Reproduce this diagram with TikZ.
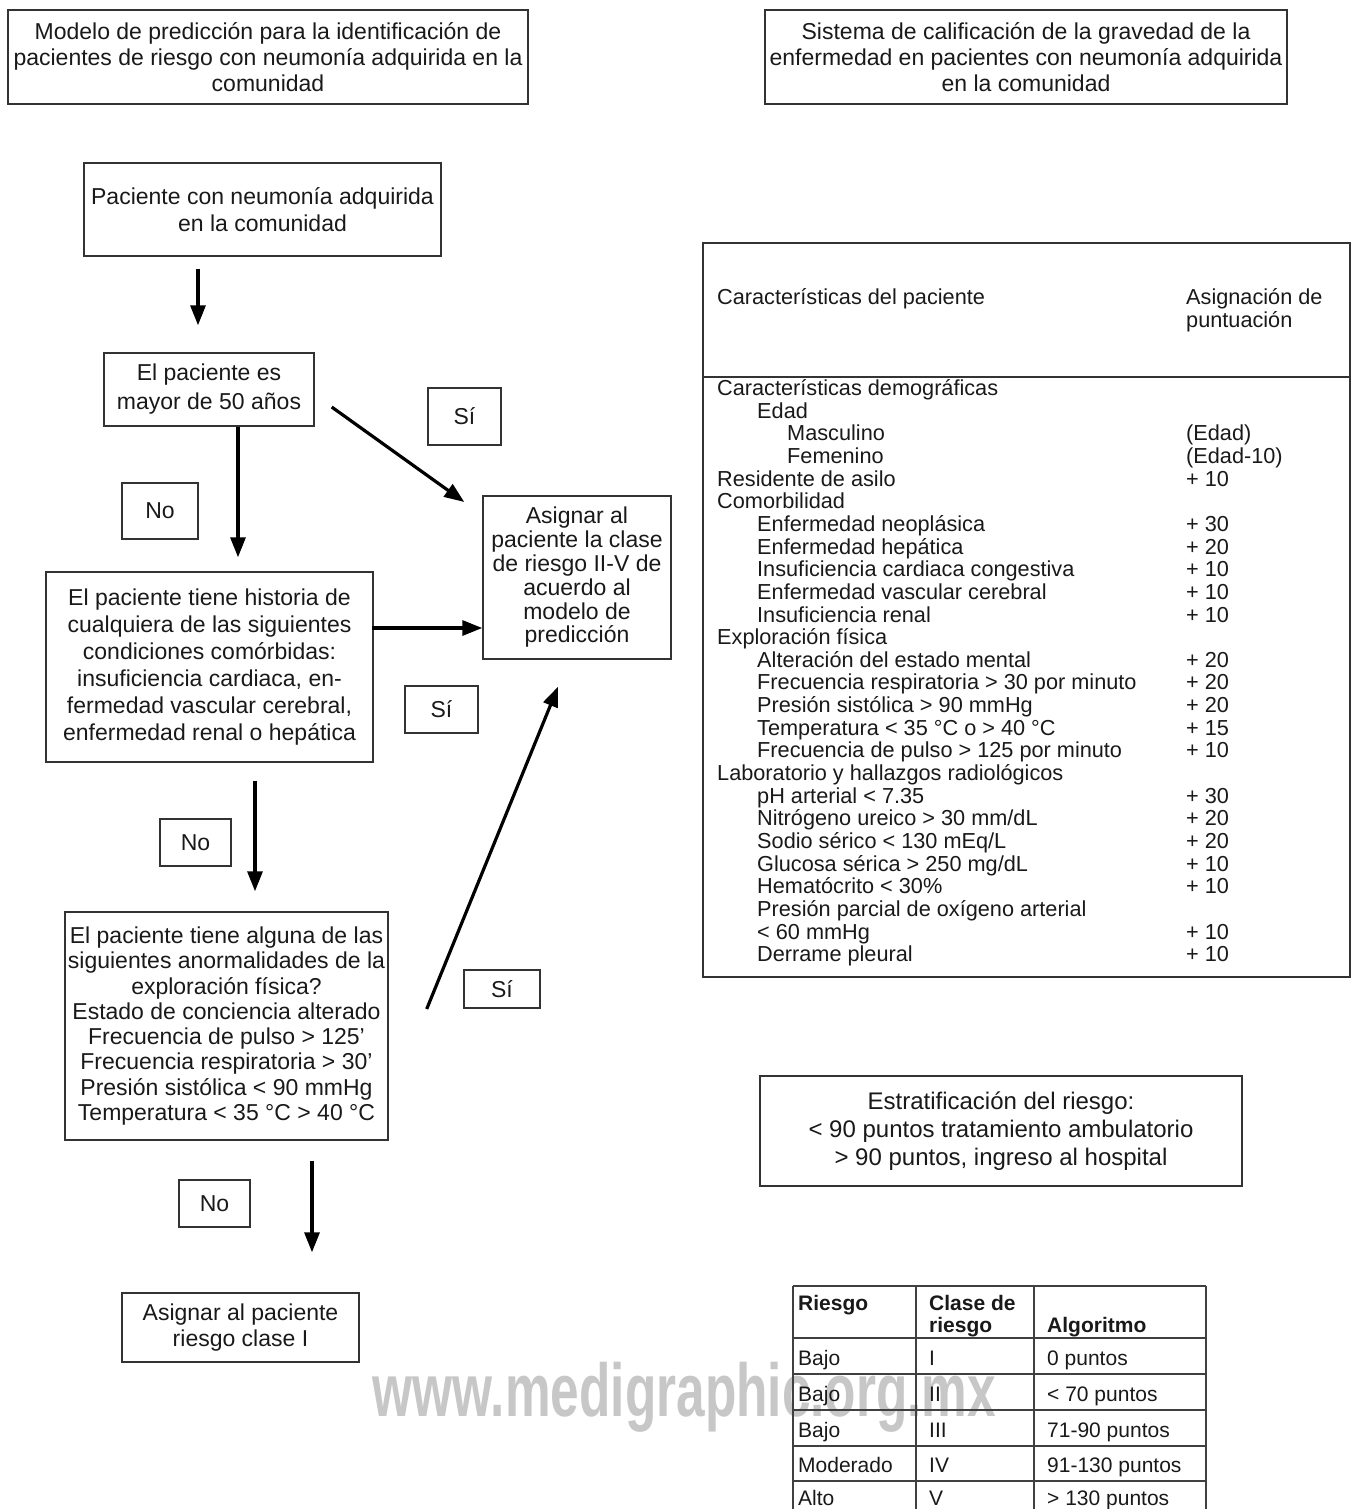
\documentclass[tikz,border=0pt]{standalone}
\usepackage{fontspec}
\setmainfont{Liberation Sans}
\usetikzlibrary{arrows.meta,calc}
\newcommand{\fsz}[2]{\fontsize{#1}{#2}\selectfont}
\newcommand{\rowL}[3]{\node[tbl, anchor=base west] (L#1) at (#2, {395.5+(#1-1)*22.65}) {#3};}
\newcommand{\rowV}[2]{\node[tbl, anchor=base west] (V#1) at (1186, {395.5+(#1-1)*22.65}) {#2};}
\begin{document}
\begin{tikzpicture}[x=1pt,y=-1pt,
  bx/.style={draw=black!80, line width=1.4pt, inner sep=0pt, align=center, text=black!90},
  lbl/.style={bx, font=\fsz{23}{26}},
  tbl/.style={inner sep=0pt, text=black!90, font=\fsz{21.7}{22.65}},
  btbl/.style={inner sep=0pt, text=black!90, font=\fsz{21}{22}},
  grid/.style={draw=black!75, line width=1.3pt},
  arr/.style={line width=3.2pt, draw=black, -{Triangle[length=20pt,width=15pt]}}]
\useasboundingbox (0,0) rectangle (1354,1509);

% ---------- titles ----------
\node[bx, minimum width=520, minimum height=94, font=\fsz{23}{26}] (A) at (268,57)
  {Modelo de predicción para la identificación de\\pacientes de riesgo con neumonía adquirida en la\\comunidad};
\node[bx, minimum width=522, minimum height=94, font=\fsz{23}{26}] (R) at (1026,57)
  {Sistema de calificación de la gravedad de la\\enfermedad en pacientes con neumonía adquirida\\en la comunidad};

% ---------- flow boxes ----------
\node[bx, minimum width=357, minimum height=93, font=\fsz{23}{27}] (B) at (262.5,209.5)
  {Paciente con neumonía adquirida\\en la comunidad};
\node[bx, minimum width=210, minimum height=73, font=\fsz{23}{29}] (C) at (209,389.5)
  {El paciente es\\mayor de 50 años};
\node[bx, minimum width=327, minimum height=190, font=\fsz{23}{27}] (D) at (209.5,667)
  {El paciente tiene historia de\\cualquiera de las siguientes\\condiciones comórbidas:\\insuficiencia cardiaca, en-\\fermedad vascular cerebral,\\enfermedad renal o hepática};
\node[bx, minimum width=188, minimum height=163, font=\fsz{23}{23.8}] (E) at (577,577.5)
  {Asignar al\\paciente la clase\\de riesgo II-V de\\acuerdo al\\modelo de\\predicción};
\node[bx, minimum width=323, minimum height=228, font=\fsz{23}{25.3}] (F) at (226.5,1026)
  {El paciente tiene alguna de las\\siguientes anormalidades de la\\exploración física?\\Estado de conciencia alterado\\Frecuencia de pulso > 125’\\Frecuencia respiratoria > 30’\\Presión sistólica < 90 mmHg\\Temperatura < 35 °C > 40 °C};
\node[bx, minimum width=237, minimum height=69, font=\fsz{23}{26}] (G) at (240.5,1327.5)
  {Asignar al paciente\\riesgo clase I};

% ---------- yes / no labels ----------
\node[lbl, minimum width=73, minimum height=57] (S1) at (464.5,416.5) {Sí};
\node[lbl, minimum width=76, minimum height=56] (N1) at (160,511) {No};
\node[lbl, minimum width=73, minimum height=47] (S2) at (441.5,709.5) {Sí};
\node[lbl, minimum width=71, minimum height=47] (N2) at (195.5,842.5) {No};
\node[lbl, minimum width=76, minimum height=38] (S3) at (502,989) {Sí};
\node[lbl, minimum width=71, minimum height=47] (N3) at (214.5,1203.5) {No};

% ---------- arrows ----------
\coordinate (x1) at (198,0);
\coordinate (x3) at (238,0);
\coordinate (y4) at (0,628);
\coordinate (x5) at (255,0);
\coordinate (x7) at (312,0);
\draw[arr, shorten <=12pt, shorten >=27pt] (B.south -| x1) -- (C.north -| x1);
\draw[arr] ($(C.east)+(17,17.5)$) -- ($(E.west)+(-18,-75.5)$);
\draw[arr, shorten >=14pt] (C.south -| x3) -- (D.north -| x3);
\draw[arr, shorten <=-2pt] (D.east |- y4) -- (E.west |- y4);
\draw[arr, shorten <=18pt, shorten >=20pt] (D.south -| x5) -- (F.north -| x5);
\draw[arr] ($(F.east)+(38,-17)$) -- ($(E.south)+(-19,27)$);
\draw[arr, shorten <=20pt, shorten >=40pt] (F.south -| x7) -- (G.north -| x7);

% ---------- scoring table ----------
\node[draw=black!80, line width=1.4pt, minimum width=647, minimum height=734, inner sep=0pt] (T) at (1026.5,610) {};
\coordinate (hy) at (0,377);
\draw[draw=black!80, line width=1.3pt] (T.west |- hy) -- (T.east |- hy);
\node[tbl, anchor=base west] (H1) at (717,304.5) {Características del paciente};
\node[tbl, anchor=base west] (H2) at (1186,304.5) {Asignación de};
\node[tbl, anchor=base west] (H3) at (1186,327.5) {puntuación};

\rowL{1}{717}{Características demográficas}
\rowL{2}{757}{Edad}
\rowL{3}{787}{Masculino}            \rowV{3}{(Edad)}
\rowL{4}{787}{Femenino}             \rowV{4}{(Edad-10)}
\rowL{5}{717}{Residente de asilo}   \rowV{5}{+ 10}
\rowL{6}{717}{Comorbilidad}
\rowL{7}{757}{Enfermedad neoplásica}            \rowV{7}{+ 30}
\rowL{8}{757}{Enfermedad hepática}              \rowV{8}{+ 20}
\rowL{9}{757}{Insuficiencia cardiaca congestiva}\rowV{9}{+ 10}
\rowL{10}{757}{Enfermedad vascular cerebral}    \rowV{10}{+ 10}
\rowL{11}{757}{Insuficiencia renal}             \rowV{11}{+ 10}
\rowL{12}{717}{Exploración física}
\rowL{13}{757}{Alteración del estado mental}    \rowV{13}{+ 20}
\rowL{14}{757}{Frecuencia respiratoria > 30 por minuto} \rowV{14}{+ 20}
\rowL{15}{757}{Presión sistólica > 90 mmHg}     \rowV{15}{+ 20}
\rowL{16}{757}{Temperatura < 35 °C o > 40 °C}   \rowV{16}{+ 15}
\rowL{17}{757}{Frecuencia de pulso > 125 por minuto} \rowV{17}{+ 10}
\rowL{18}{717}{Laboratorio y hallazgos radiológicos}
\rowL{19}{757}{pH arterial < 7.35}              \rowV{19}{+ 30}
\rowL{20}{757}{Nitrógeno ureico > 30 mm/dL}     \rowV{20}{+ 20}
\rowL{21}{757}{Sodio sérico < 130 mEq/L}        \rowV{21}{+ 20}
\rowL{22}{757}{Glucosa sérica > 250 mg/dL}      \rowV{22}{+ 10}
\rowL{23}{757}{Hematócrito < 30\%}              \rowV{23}{+ 10}
\rowL{24}{757}{Presión parcial de oxígeno arterial}
\rowL{25}{757}{< 60 mmHg}                       \rowV{25}{+ 10}
\rowL{26}{757}{Derrame pleural}                 \rowV{26}{+ 10}

% ---------- stratification ----------
\node[bx, minimum width=482, minimum height=110, font=\fsz{24}{28}] (ST) at (1001,1131)
  {Estratificación del riesgo:\\< 90 puntos tratamiento ambulatorio\\> 90 puntos, ingreso al hospital};

% ---------- watermark ----------
\node[anchor=base, inner sep=0pt, text=black!22, font=\fsz{75}{80}\bfseries] (WM) at (684.5,1416)
  {\scalebox{0.685}[1]{www.medigraphic.org.mx}};

% ---------- risk table ----------
\draw[grid] (793,1286) -- (1206,1286);
\draw[grid] (793,1338) -- (1206,1338);
\draw[grid] (793,1374) -- (1206,1374);
\draw[grid] (793,1410) -- (1206,1410);
\draw[grid] (793,1446) -- (1206,1446);
\draw[grid] (793,1481) -- (1206,1481);
\draw[grid] (793,1286) -- (793,1512);
\draw[grid] (916,1286) -- (916,1512);
\draw[grid] (1034,1286) -- (1034,1512);
\draw[grid] (1206,1286) -- (1206,1512);

\node[btbl, anchor=base west, font=\fsz{21}{22}\bfseries] (c11) at (798,1310) {Riesgo};
\node[btbl, anchor=base west, font=\fsz{21}{22}\bfseries] (c12) at (929,1310) {Clase de};
\node[btbl, anchor=base west, font=\fsz{21}{22}\bfseries] (c12b) at (929,1332) {riesgo};
\node[btbl, anchor=base west, font=\fsz{21}{22}\bfseries] (c13) at (1047,1332) {Algoritmo};

\node[btbl, anchor=base west] (c21) at (798,1365.5) {Bajo};
\node[btbl, anchor=base west] (c22) at (929,1365.5) {I};
\node[btbl, anchor=base west] (c23) at (1047,1365.5) {0 puntos};
\node[btbl, anchor=base west] (c31) at (798,1401.5) {Bajo};
\node[btbl, anchor=base west] (c32) at (929,1401.5) {II};
\node[btbl, anchor=base west] (c33) at (1047,1401.5) {< 70 puntos};
\node[btbl, anchor=base west] (c41) at (798,1437.5) {Bajo};
\node[btbl, anchor=base west] (c42) at (929,1437.5) {III};
\node[btbl, anchor=base west] (c43) at (1047,1437.5) {71-90 puntos};
\node[btbl, anchor=base west] (c51) at (798,1472.5) {Moderado};
\node[btbl, anchor=base west] (c52) at (929,1472.5) {IV};
\node[btbl, anchor=base west] (c53) at (1047,1472.5) {91-130 puntos};
\node[btbl, anchor=base west] (c61) at (798,1505.5) {Alto};
\node[btbl, anchor=base west] (c62) at (929,1505.5) {V};
\node[btbl, anchor=base west] (c63) at (1047,1505.5) {> 130 puntos};
\end{tikzpicture}
\end{document}
